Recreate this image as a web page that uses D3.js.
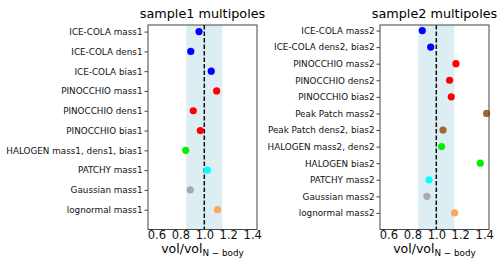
<!DOCTYPE html>
<html>
<head>
<meta charset="utf-8">
<script src="https://cdn.jsdelivr.net/npm/d3@7"></script>
<style>
  body { margin: 0; background: #fff; }
  text { font-family: 'DejaVu Sans', sans-serif; }
</style>
</head>
<body>
<div id="chart"></div>
<script>
  // sample1 rows
  const labels1 = ['ICE-COLA mass1', 'ICE-COLA dens1', 'ICE-COLA bias1', 'PINOCCHIO mass1',
    'PINOCCHIO dens1', 'PINOCCHIO bias1', 'HALOGEN mass1, dens1, bias1', 'PATCHY mass1',
    'Gaussian mass1', 'lognormal mass1'];
  const methods1 = ['ICE-COLA', 'ICE-COLA', 'ICE-COLA', 'PINOCCHIO', 'PINOCCHIO', 'PINOCCHIO',
    'HALOGEN', 'PATCHY', 'Gaussian', 'lognormal'];
  const values1 = [0.956, 0.887, 1.058, 1.103, 0.908, 0.967, 0.845, 1.025, 0.883, 1.11];

  // sample2 rows
  const labels2 = ['ICE-COLA mass2', 'ICE-COLA dens2, bias2', 'PINOCCHIO mass2', 'PINOCCHIO dens2',
    'PINOCCHIO bias2', 'Peak Patch mass2', 'Peak Patch dens2, bias2', 'HALOGEN mass2, dens2',
    'HALOGEN bias2', 'PATCHY mass2', 'Gaussian mass2', 'lognormal mass2'];
  const methods2 = ['ICE-COLA', 'ICE-COLA', 'PINOCCHIO', 'PINOCCHIO', 'PINOCCHIO', 'Peak Patch',
    'Peak Patch', 'HALOGEN', 'HALOGEN', 'PATCHY', 'Gaussian', 'lognormal'];
  const values2 = [0.883, 0.953, 1.164, 1.111, 1.125, 1.42, 1.056, 1.044, 1.367, 0.939, 0.922, 1.153];

  const xTicks = [0.6, 0.8, 1.0, 1.2, 1.4];
  const band = [0.85, 1.15];

  const color = d3.scaleOrdinal()
    .domain(['ICE-COLA', 'PINOCCHIO', 'Peak Patch', 'HALOGEN', 'PATCHY', 'Gaussian', 'lognormal'])
    .range(['#0000ff', '#ff0000', '#a3652f', '#00f000', '#00ffff', '#a9a9a9', '#f9a95e']);

  const width = 498;
  const height = 272;

  const svg = d3.select('#chart')
    .append('svg')
    .attr('width', width)
    .attr('height', height);

  const panel = (
    selection,
    { labels, methods, values, title, left, right, top, bottom }
  ) => {
    const n = labels.length;

    const xScale = d3.scaleLinear()
      .domain([0.53, 1.44])
      .range([left, right]);

    const yScale = d3.scaleLinear()
      .domain([-1 / 3, n])
      .range([top, bottom]);

    // shaded +-15% band
    selection.append('rect')
      .attr('x', xScale(band[0]))
      .attr('y', top)
      .attr('width', xScale(band[1]) - xScale(band[0]))
      .attr('height', bottom - top)
      .attr('fill', '#dceef3');

    selection.append('line')
      .attr('x1', xScale(1)).attr('x2', xScale(1))
      .attr('y1', top).attr('y2', bottom)
      .attr('stroke', '#111')
      .attr('stroke-width', 1.5)
      .attr('stroke-dasharray', '4.5,2');

    selection.selectAll('circle')
      .data(values)
      .join('circle')
      .attr('cx', d => xScale(d))
      .attr('cy', (d, i) => yScale(i))
      .attr('r', 3.6)
      .attr('fill', (d, i) => color(methods[i]));

    selection.append('rect')
      .attr('x', left)
      .attr('y', top)
      .attr('width', right - left)
      .attr('height', bottom - top)
      .attr('fill', 'none')
      .attr('stroke', '#444')
      .attr('stroke-width', 1);

    const yAxis = selection.append('g')
      .attr('transform', `translate(${left},0)`)
      .call(d3.axisLeft(yScale)
        .tickValues(d3.range(n))
        .tickFormat(i => labels[i])
        .tickSize(3.5)
        .tickPadding(2));
    yAxis.select('.domain').remove();
    yAxis.selectAll('line').attr('stroke', '#444');
    yAxis.selectAll('text')
      .attr('font-size', '8.8px')
      .attr('font-family', 'DejaVu Sans')
      .attr('fill', '#111');

    const xAxis = selection.append('g')
      .attr('transform', `translate(0,${bottom})`)
      .call(d3.axisBottom(xScale)
        .tickValues(xTicks)
        .tickFormat(d3.format('.1f'))
        .tickSize(0)
        .tickPadding(1.5));
    xAxis.select('.domain').remove();
    xAxis.selectAll('text')
      .attr('font-size', '11.5px')
      .attr('font-family', 'DejaVu Sans')
      .attr('fill', '#111');

    const cx = (left + right) / 2;

    selection.append('text')
      .attr('x', cx)
      .attr('y', 17.5)
      .attr('text-anchor', 'middle')
      .attr('font-size', '12.8px')
      .text(title);

    const lbl = selection.append('text')
      .attr('x', cx)
      .attr('y', 253)
      .attr('text-anchor', 'middle')
      .attr('font-size', '12.5px');
    lbl.append('tspan').text('vol/vol');
    lbl.append('tspan')
      .attr('dy', 2.5)
      .attr('font-size', '8.8px')
      .text('N \u2212 body');
  };

  svg.append('g').call(panel, {
    labels: labels1, methods: methods1, values: values1,
    title: 'sample1 multipoles',
    left: 148, right: 257, top: 25, bottom: 229.5
  });

  svg.append('g').call(panel, {
    labels: labels2, methods: methods2, values: values2,
    title: 'sample2 multipoles',
    left: 380, right: 489, top: 25, bottom: 229.5
  });
</script>
</body>
</html>
